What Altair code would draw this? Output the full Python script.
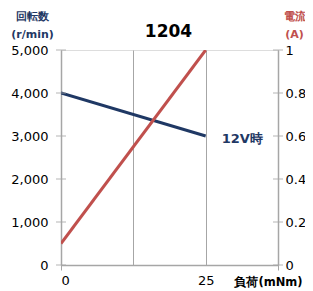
import altair as alt
import pandas as pd

load = [0, 25]
speed = [4000, 3000]
current = [0.1, 1.0]
speed_ticks = [0, 1000, 2000, 3000, 4000, 5000]
current_ticks = [0, 0.2, 0.4, 0.6, 0.8, 1.0]
x_grid = [0, 12.5, 25, 37.5]
label_text = "12V時"
title_text = "1204"

NAVY = "#1f3864"
RED = "#c0504d"
GRAY = "#a6a6a6"
FONT = "DejaVu Sans"

W, H = 217, 215

df = pd.DataFrame({"load": load, "speed": speed, "current": current})
ticks_df = pd.DataFrame({"t": speed_ticks})
lab_df = pd.DataFrame({"load": [load[-1]], "speed": [speed[-1]], "txt": [label_text]})
title_df = pd.DataFrame({"txt": [title_text]})

xscale = alt.Scale(domain=[0, 37.5], nice=False, zero=False)
xaxis = alt.Axis(
    values=x_grid, format=".0f",
    labelExpr="datum.value == 0 || datum.value == 25 ? datum.label : ''",
    grid=True, gridColor=GRAY, gridWidth=1,
    domainColor=GRAY, domainWidth=1.5,
    tickColor={"condition": {"test": "datum.value == 12.5 || datum.value == 25", "value": "transparent"}, "value": GRAY},
    tickSize=5, labelPadding=4,
    labelFont=FONT, labelFontSize=13, labelColor="#000",
    title="負荷(mNm)", titleFont=FONT, titleFontSize=11.5, titleFontWeight="bold",
    titleColor="#000", titleAngle=0, titleAlign="center", titleBaseline="middle",
    titleX=207, titleY=17,
)

yL = alt.Scale(domain=[0, 5000], nice=False)
yR = alt.Scale(domain=[0, 1], nice=False)

left_axis = alt.Axis(
    values=speed_ticks, format=",.0f", grid=False, ticks=False,
    domainColor=GRAY, domainWidth=1.5, labelPadding=13,
    labelFont=FONT, labelFontSize=13, labelColor="#000",
    title=["回転数", "(r/min)"], titleFont=FONT, titleFontSize=11, titleFontWeight="bold",
    titleColor=NAVY, titleAngle=0, titleAlign="center", titleBaseline="alphabetic",
    titleX=-29, titleY=-31, titleLineHeight=18,
)
right_axis = alt.Axis(
    values=current_ticks, format="~g", grid=False, ticks=False, orient="right",
    domainColor=GRAY, domainWidth=1.5, labelPadding=7,
    labelFont=FONT, labelFontSize=13, labelColor="#000",
    title=["電流", "(A)"], titleFont=FONT, titleFontSize=11, titleFontWeight="bold",
    titleColor=RED, titleAngle=0, titleAlign="center", titleBaseline="alphabetic",
    titleX=16, titleY=-31, titleLineHeight=18,
)

speed_line = alt.Chart(df).mark_line(color=NAVY, strokeWidth=3, clip=True).encode(
    x=alt.X("load:Q", scale=xscale, axis=xaxis),
    y=alt.Y("speed:Q", scale=yL, axis=left_axis),
)
lab = alt.Chart(lab_df).mark_text(
    align="left", baseline="middle", dx=16, dy=3, font=FONT, fontSize=13,
    fontWeight="bold", color=NAVY,
).encode(
    x=alt.X("load:Q", scale=xscale),
    y=alt.Y("speed:Q", scale=yL),
    text="txt:N",
)
title = alt.Chart(title_df).mark_text(
    align="center", baseline="alphabetic", font=FONT, fontSize=17, fontWeight="bold", color="#000",
).encode(x=alt.value(W / 2 - 1), y=alt.value(-13), text="txt:N")

left_layer = alt.layer(speed_line, lab, title)

current_line = alt.Chart(df).mark_line(color=RED, strokeWidth=3, clip=True).encode(
    x=alt.X("load:Q", scale=xscale),
    y=alt.Y("current:Q", scale=yR, axis=right_axis),
)

tick_l = alt.Chart(ticks_df).mark_tick(orient="horizontal", color=GRAY, size=10, thickness=1.2).encode(
    y=alt.Y("t:Q", scale=yL, axis=None),
    x=alt.value(0),
)
tick_r = alt.Chart(ticks_df).mark_tick(orient="horizontal", color=GRAY, size=10, thickness=1.2).encode(
    y=alt.Y("t:Q", scale=yL, axis=None),
    x=alt.value(W),
)
tick_layer = alt.layer(tick_l, tick_r)

chart = alt.layer(left_layer, current_line, tick_layer).resolve_scale(y="independent").properties(
    width=W, height=H,
    autosize=alt.AutoSizeParams(type="none"),
    padding={"left": 53, "top": 42, "right": 27, "bottom": 26},
).configure_view(stroke=GRAY, strokeWidth=1.2).configure(background="white")

chart.save("out.html", embed_options={"renderer": "svg", "actions": False})
